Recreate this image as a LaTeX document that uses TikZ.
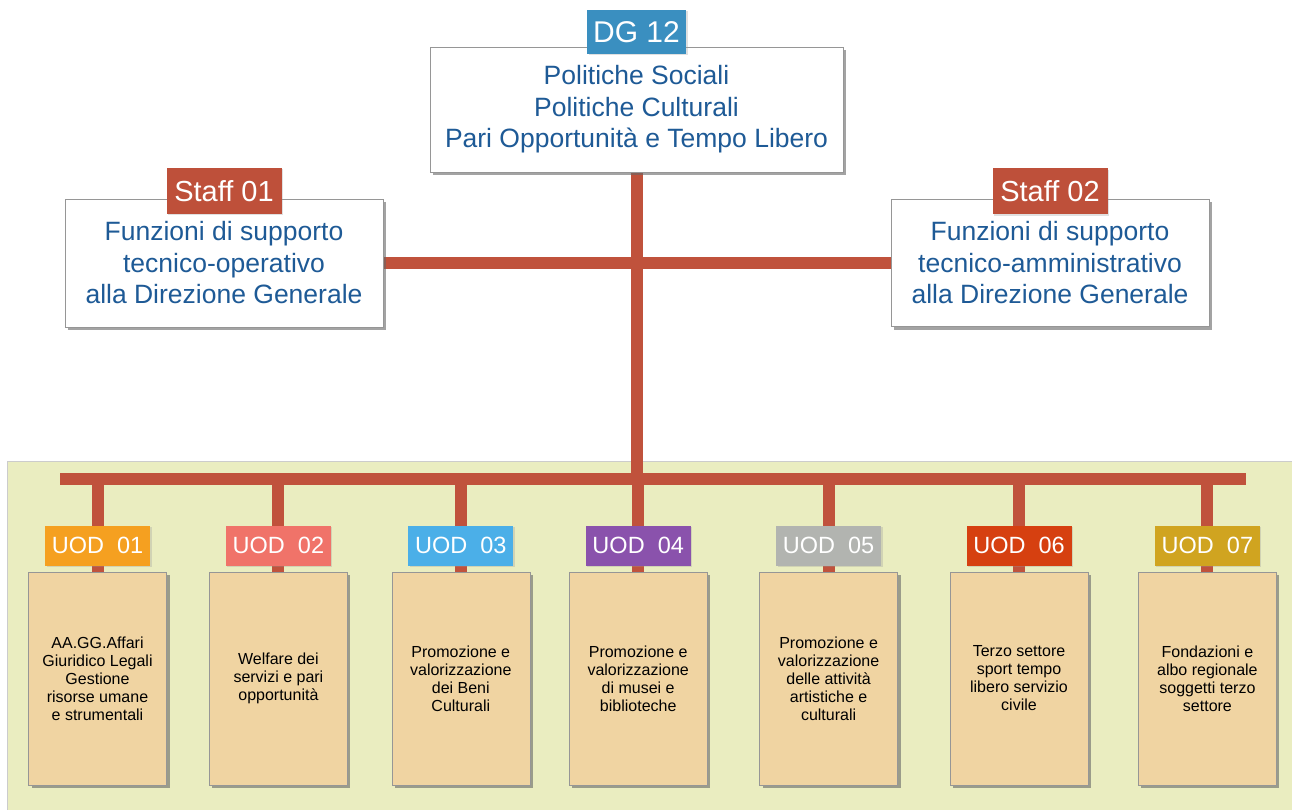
\documentclass[tikz,border=0pt]{standalone}
\usepackage{fontspec}
\setmainfont{Liberation Sans}
\definecolor{linkRed}{RGB}{192, 82, 60}
\definecolor{dgBlue}{RGB}{58, 143, 192}
\definecolor{staffRed}{RGB}{190, 80, 58}
\definecolor{textBlue}{RGB}{30, 90, 150}
\definecolor{panelGreen}{RGB}{234, 237, 192}
\definecolor{uodFill}{RGB}{240, 212, 162}
\definecolor{boxGray}{RGB}{150, 150, 150}
\definecolor{uodA}{RGB}{245, 160, 32}
\definecolor{uodB}{RGB}{240, 115, 105}
\definecolor{uodC}{RGB}{75, 175, 232}
\definecolor{uodD}{RGB}{138, 82, 172}
\definecolor{uodE}{RGB}{178, 180, 176}
\definecolor{uodF}{RGB}{214, 64, 16}
\definecolor{uodG}{RGB}{208, 164, 32}
\usepackage{tikz}
\usetikzlibrary{positioning, shadows}
\pgfdeclarelayer{panel}
\pgfdeclarelayer{links}
\pgfsetlayers{panel,links,main}

\begin{document}
\begin{tikzpicture}[
      x=1pt, y=-1pt,
      office/.style={rectangle, draw=boxGray, fill=white, align=center, text=textBlue, inner sep=0pt, font=\fontsize{26.5}{31.5}\selectfont, drop shadow={shadow xshift=3pt, shadow yshift=-3pt, fill=black!60, opacity=.6}},
      tagbox/.style={rectangle, text=white, inner sep=0pt, drop shadow={shadow xshift=1.5pt, shadow yshift=-1.5pt, fill=black!40, opacity=.3}},
      uodtag/.style={tagbox, minimum width=105pt, minimum height=40pt, font=\fontsize{23.5}{23.5}\selectfont},
      uod/.style={rectangle, draw=boxGray, fill=uodFill, minimum width=138pt, minimum height=213pt, align=center, font=\fontsize{16}{18}\selectfont, drop shadow={shadow xshift=3pt, shadow yshift=-3pt, fill=black!60, opacity=.6}},
      link/.style={draw=linkRed, line width=12pt}
    ]
      \useasboundingbox (0,0) rectangle (1292,810);

      % direzione generale e staff
      \node[office, minimum width=413pt, minimum height=125pt] (dg) at (636.5,109.5) {Politiche Sociali\\Politiche Culturali\\Pari Opportunità e Tempo Libero};
      \node[tagbox, fill=dgBlue, minimum width=99pt, minimum height=44pt, font=\fontsize{30}{30}\selectfont] (dgtag) at ([yshift=15pt]dg.north) {DG 12};

      \node[office, minimum width=318pt, minimum height=128pt] (s1) at (224,263) {Funzioni di supporto\\tecnico-operativo\\alla Direzione Generale};
      \node[tagbox, fill=staffRed, minimum width=115pt, minimum height=46pt, font=\fontsize{29}{29}\selectfont] (s1tag) at ([yshift=8pt]s1.north) {Staff 01};

      \node[office, minimum width=318pt, minimum height=127pt] (s2) at (1050,263) {Funzioni di supporto\\tecnico-amministrativo\\alla Direzione Generale};
      \node[tagbox, fill=staffRed, minimum width=115pt, minimum height=46pt, font=\fontsize{29}{29}\selectfont] (s2tag) at ([yshift=8pt]s2.north) {Staff 02};

      % unita operative dirigenziali
      \coordinate (busL) at (60,479);
      \coordinate (busR) at (1246,479);

      \node[uod] (u1) at (97.5,678.5) {AA.GG.Affari\\Giuridico Legali\\Gestione\\risorse umane\\e strumentali};
      \node[uod, right=42.5pt of u1] (u2) {Welfare dei\\servizi e pari\\opportunità};
      \node[uod, right=44pt of u2] (u3) {Promozione e\\valorizzazione\\dei Beni\\Culturali};
      \node[uod, right=39pt of u3] (u4) {Promozione e\\valorizzazione\\di musei e\\biblioteche};
      \node[uod, right=52pt of u4] (u5) {Promozione e\\valorizzazione\\delle attività\\artistiche e\\culturali};
      \node[uod, right=52pt of u5] (u6) {Terzo settore\\sport tempo\\libero servizio\\civile};
      \node[uod, right=50pt of u6] (u7) {Fondazioni e\\albo regionale\\soggetti terzo\\settore};

      \node[uodtag, fill=uodA, above=6pt of u1] (t1) {UOD\ \ 01};
      \node[uodtag, fill=uodB, above=6pt of u2] (t2) {UOD\ \ 02};
      \node[uodtag, fill=uodC, above=6pt of u3] (t3) {UOD\ \ 03};
      \node[uodtag, fill=uodD, above=6pt of u4] (t4) {UOD\ \ 04};
      \node[uodtag, fill=uodE, above=6pt of u5] (t5) {UOD\ \ 05};
      \node[uodtag, fill=uodF, above=6pt of u6] (t6) {UOD\ \ 06};
      \node[uodtag, fill=uodG, above=6pt of u7] (t7) {UOD\ \ 07};

      \begin{pgfonlayer}{links}
        \draw[link] (dg.south) -- (dg.south |- busL);
        \draw[link] (s1) -- (s2);
        \draw[link] (busL) -- (busR);
        \draw[link] (u1.north |- busL) -- (u1.north);
        \draw[link] (u2.north |- busL) -- (u2.north);
        \draw[link] (u3.north |- busL) -- (u3.north);
        \draw[link] (u4.north |- busL) -- (u4.north);
        \draw[link] (u5.north |- busL) -- (u5.north);
        \draw[link] (u6.north |- busL) -- (u6.north);
        \draw[link] (u7.north |- busL) -- (u7.north);
      \end{pgfonlayer}

      \begin{pgfonlayer}{panel}
        \fill[white] (0,0) rectangle (1292,810);
        \filldraw[fill=panelGreen, draw=black!20] (7,461) rectangle (1293,811);
      \end{pgfonlayer}
    \end{tikzpicture}
\end{document}
